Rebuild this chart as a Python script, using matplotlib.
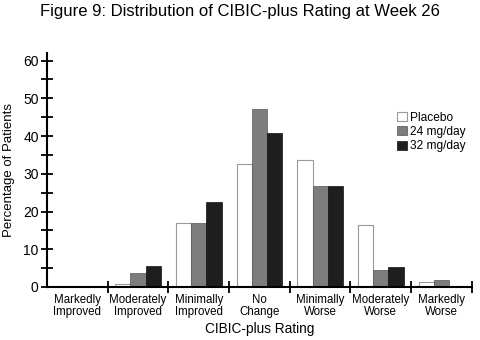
import matplotlib
matplotlib.use("Agg")
import matplotlib.pyplot as plt
import numpy as np
from matplotlib.ticker import MultipleLocator

plt.rcParams['font.family'] = ['Liberation Sans', 'DejaVu Sans']

categories = ["Markedly\nImproved", "Moderately\nImproved", "Minimally\nImproved", "No\nChange",
              "Minimally\nWorse", "Moderately\nWorse", "Markedly\nWorse"]
placebo = [0, 0.8, 17.0, 32.5, 33.6, 16.3, 1.3]
mg24 = [0, 3.8, 17.0, 47.2, 26.7, 4.5, 1.9]
mg32 = [0, 5.5, 22.6, 40.9, 26.7, 5.4, 0]
series_names = ["Placebo", "24 mg/day", "32 mg/day"]

fig = plt.figure(figsize=(4.8, 3.4), dpi=100)
ax = fig.add_axes([0.098, 0.156, 0.885, 0.688])

x = np.arange(len(categories)) + 0.5
w = 0.25
ax.bar(x - w, placebo, w, color='white', edgecolor='#999999', linewidth=0.8, label=series_names[0])
ax.bar(x, mg24, w, color='#7d7d7d', edgecolor='#555555', linewidth=0.5, label=series_names[1])
ax.bar(x + w, mg32, w, color='#1e1e1e', edgecolor='#111111', linewidth=0.5, label=series_names[2])

ax.set_xlim(0, 7)
ax.set_ylim(0, 62)
ax.spines['top'].set_visible(False)
ax.spines['right'].set_visible(False)
ax.spines['left'].set_linewidth(1.5)
ax.spines['bottom'].set_linewidth(1.5)

ax.set_yticks(np.arange(0, 61, 10))
ax.yaxis.set_minor_locator(MultipleLocator(5))
ax.tick_params(axis='y', which='both', direction='inout', length=8, width=1.3, labelsize=10, pad=2)

ax.set_xticks(np.arange(1, 8))
ax.set_xticklabels([])
ax.set_xticks(x, minor=True)
ax.set_xticklabels(categories, minor=True, fontsize=8.3, linespacing=1.0)
ax.tick_params(axis='x', which='major', direction='inout', length=8, width=1.3)
ax.tick_params(axis='x', which='minor', length=0, pad=5)

ax.set_ylabel("Percentage of Patients", fontsize=9.5, labelpad=6)
ax.set_xlabel("CIBIC-plus Rating", fontsize=9.8, labelpad=3)

fig.suptitle("Figure 9: Distribution of CIBIC-plus Rating at Week 26", fontsize=12, y=0.988)

leg = ax.legend(loc='upper left', bbox_to_anchor=(0.81, 0.775), frameon=False, fontsize=8.6,
                handlelength=0.8, handleheight=0.8, handletextpad=0.3, labelspacing=0.2,
                borderpad=0)

fig.savefig("out.png", dpi=100)
